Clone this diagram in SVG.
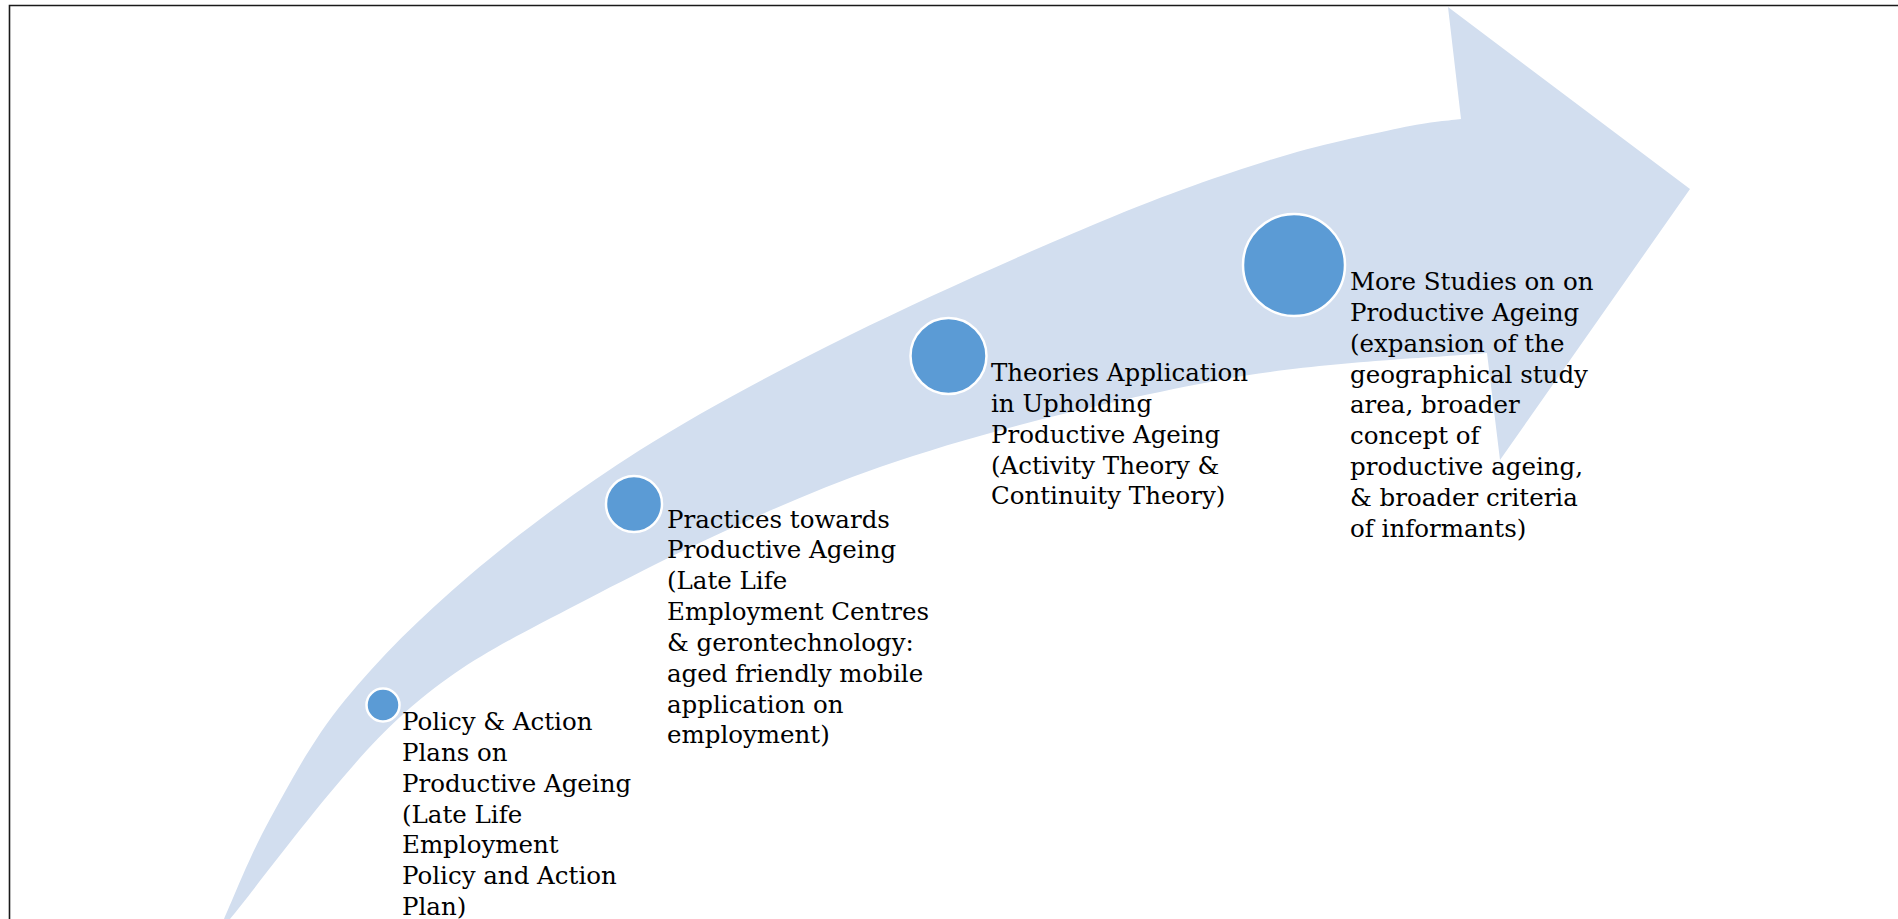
<svg xmlns="http://www.w3.org/2000/svg" width="1898" height="919" viewBox="0 0 1898 919">
  <style>
    .band { fill: #D2DEEF; stroke: none; }
    .dot { fill: #5B9BD5; stroke: #FFFFFF; stroke-width: 2.5; }
    .lbl { font-family: "DejaVu Serif", "Liberation Serif", serif; font-size: 24.5px; fill: #000000; }
    .frame { stroke: #1a1a1a; stroke-width: 1.6; fill: none; }
  </style>
  <rect x="0" y="0" width="1898" height="919" fill="#FFFFFF"/>
  <path class="frame" d="M9.5,919 L9.5,5.5 L1898,5.5"/>
  <g id="connectors">
    <path id="arrow-band" class="band" d="M224,919
      C231.7,902.3 249.8,855.5 270,819
      C290.2,782.5 311.7,740.7 345,700
      C378.3,659.3 420.8,616.7 470,575
      C519.2,533.3 576.7,490 640,450
      C703.3,410 773.3,373 850,335
      C926.7,297 1030,251.2 1100,222
      C1170,192.8 1220,175.7 1270,160
      C1320,144.3 1368.2,134.8 1400,128
      C1431.8,121.2 1450.8,120.5 1461,119
      L1448,7 L1690,189 L1500,460 L1487,353
      C1442.5,357.5 1321.2,361 1220,380
      C1118.8,399 986.7,429.8 880,467
      C773.3,504.2 660,561.3 580,603
      C500,644.7 458.3,664.3 400,717
      C341.7,769.7 258.3,885.3 230,919 Z"/>
  </g>
  <g id="node-policy">
    <circle class="dot" cx="383" cy="705" r="16.5"/>
    <text class="lbl" x="402" y="730">
      <tspan x="402" y="730">Policy &amp; Action</tspan>
      <tspan x="402" dy="30.85">Plans on</tspan>
      <tspan x="402" dy="30.85">Productive Ageing</tspan>
      <tspan x="402" dy="30.85">(Late Life</tspan>
      <tspan x="402" dy="30.85">Employment</tspan>
      <tspan x="402" dy="30.85">Policy and Action</tspan>
      <tspan x="402" dy="30.85">Plan)</tspan>
    </text>
  </g>
  <g id="node-practices">
    <circle class="dot" cx="634" cy="504" r="28"/>
    <text class="lbl" x="667" y="527.5">
      <tspan x="667" y="527.5">Practices towards</tspan>
      <tspan x="667" dy="30.85">Productive Ageing</tspan>
      <tspan x="667" dy="30.85">(Late Life</tspan>
      <tspan x="667" dy="30.85">Employment Centres</tspan>
      <tspan x="667" dy="30.85">&amp; gerontechnology:</tspan>
      <tspan x="667" dy="30.85">aged friendly mobile</tspan>
      <tspan x="667" dy="30.85">application on</tspan>
      <tspan x="667" dy="30.85">employment)</tspan>
    </text>
  </g>
  <g id="node-theories">
    <circle class="dot" cx="948.5" cy="356" r="38"/>
    <text class="lbl" x="991" y="381">
      <tspan x="991" y="381">Theories Application</tspan>
      <tspan x="991" dy="30.85">in Upholding</tspan>
      <tspan x="991" dy="30.85">Productive Ageing</tspan>
      <tspan x="991" dy="30.85">(Activity Theory &amp;</tspan>
      <tspan x="991" dy="30.85">Continuity Theory)</tspan>
    </text>
  </g>
  <g id="node-studies">
    <circle class="dot" cx="1294" cy="265" r="51"/>
    <text class="lbl" x="1350" y="290">
      <tspan x="1350" y="290">More Studies on on</tspan>
      <tspan x="1350" dy="30.85">Productive Ageing</tspan>
      <tspan x="1350" dy="30.85">(expansion of the</tspan>
      <tspan x="1350" dy="30.85">geographical study</tspan>
      <tspan x="1350" dy="30.85">area, broader</tspan>
      <tspan x="1350" dy="30.85">concept of</tspan>
      <tspan x="1350" dy="30.85">productive ageing,</tspan>
      <tspan x="1350" dy="30.85">&amp; broader criteria</tspan>
      <tspan x="1350" dy="30.85">of informants)</tspan>
    </text>
  </g>
</svg>
